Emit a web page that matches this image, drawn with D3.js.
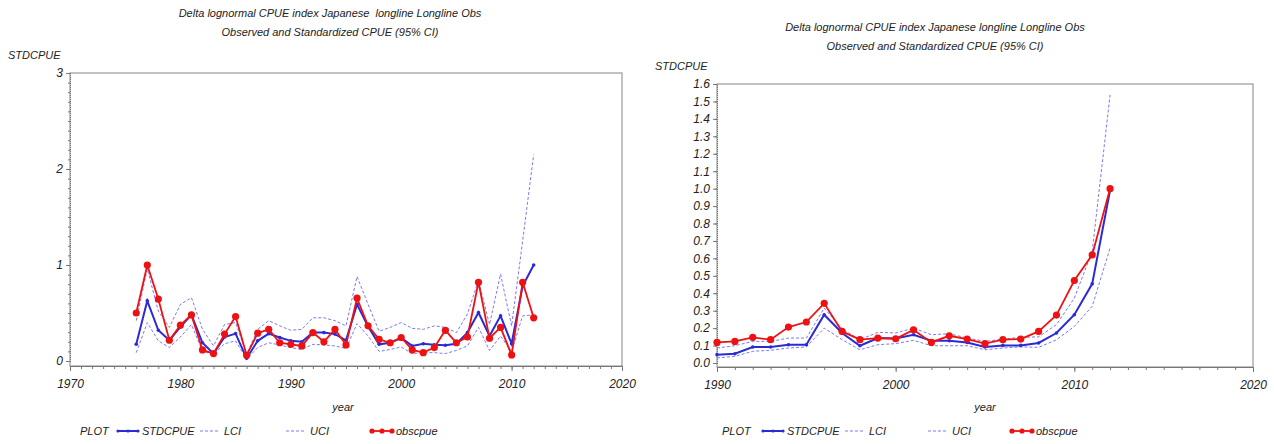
<!DOCTYPE html>
<html>
<head>
<meta charset="utf-8">
<script src="https://cdn.jsdelivr.net/npm/d3@7"></script>
<style>
body { margin: 0; background: #fff; }
text { font-family: "Liberation Sans", Arial, sans-serif; font-style: italic; fill: #222; }
</style>
</head>
<body>
<script>
// CPUE PANELS
// left: full series 1976-2012, right: 1990-2012
// blue = standardized, dashed = 95% CI, red dots = observed

var leftYears = [1976, 1977, 1978, 1979, 1980, 1981, 1982, 1983, 1984, 1985, 1986, 1987, 1988,
	1989, 1990, 1991, 1992, 1993, 1994, 1995, 1996, 1997, 1998, 1999, 2000, 2001, 2002, 2003,
	2004, 2005, 2006, 2007, 2008, 2009, 2010, 2011, 2012];
var leftObs = [0.50, 1.00, 0.645, 0.216, 0.373, 0.48, 0.115, 0.077, 0.28, 0.463, 0.06, 0.29, 0.33,
	0.19, 0.174, 0.157, 0.296, 0.20, 0.33, 0.167, 0.655, 0.366, 0.226, 0.19, 0.245, 0.115, 0.087, 0.14,
	0.32, 0.19, 0.25, 0.82, 0.237, 0.35, 0.063, 0.82, 0.45];
var leftStd = [0.174, 0.627, 0.32, 0.216, 0.355, 0.48, 0.19, 0.077, 0.25, 0.285, 0.028, 0.21, 0.285,
	0.245, 0.21, 0.20, 0.296, 0.296, 0.28, 0.216, 0.59, 0.36, 0.174, 0.19, 0.24, 0.157, 0.18, 0.17,
	0.164, 0.18, 0.296, 0.505, 0.26, 0.47, 0.18, 0.78, 1.0];
var leftUci = [0.42, 0.96, 0.52, 0.35, 0.59, 0.66, 0.33, 0.157, 0.38, 0.40, 0.07, 0.33, 0.42,
	0.366, 0.32, 0.33, 0.45, 0.45, 0.42, 0.366, 0.88, 0.59, 0.31, 0.35, 0.40, 0.34, 0.33, 0.366,
	0.35, 0.296, 0.49, 0.84, 0.38, 0.905, 0.366, 1.25, 2.15];
var leftLci = [0.087, 0.40, 0.21, 0.14, 0.25, 0.38, 0.10, 0.07, 0.18, 0.21, 0.018, 0.14, 0.19,
	0.167, 0.14, 0.12, 0.174, 0.167, 0.157, 0.13, 0.39, 0.26, 0.10, 0.12, 0.146, 0.077, 0.087, 0.087,
	0.077, 0.11, 0.157, 0.35, 0.11, 0.26, 0.10, 0.47, 0.48];

var rightYears = [1990, 1991, 1992, 1993, 1994, 1995, 1996, 1997, 1998, 1999, 2000, 2001, 2002,
	2003, 2004, 2005, 2006, 2007, 2008, 2009, 2010, 2011, 2012];
var rightObs = [0.118, 0.124, 0.147, 0.134, 0.206, 0.235, 0.342, 0.181, 0.134, 0.143, 0.139, 0.19,
	0.118, 0.156, 0.137, 0.111, 0.134, 0.137, 0.181, 0.275, 0.473, 0.62, 1.0];
var rightStd = [0.048, 0.053, 0.092, 0.092, 0.105, 0.105, 0.277, 0.172, 0.099, 0.143, 0.141, 0.162,
	0.128, 0.128, 0.118, 0.092, 0.101, 0.101, 0.115, 0.172, 0.277, 0.454, 0.99];
var rightUci = [0.086, 0.099, 0.124, 0.124, 0.143, 0.143, 0.315, 0.195, 0.134, 0.176, 0.172, 0.2,
	0.162, 0.168, 0.143, 0.124, 0.137, 0.147, 0.15, 0.22, 0.372, 0.64, 1.537];
var rightLci = [0.029, 0.038, 0.067, 0.073, 0.086, 0.092, 0.2, 0.134, 0.076, 0.105, 0.111, 0.13,
	0.099, 0.099, 0.099, 0.076, 0.086, 0.092, 0.09, 0.133, 0.21, 0.325, 0.659];

var leftTitle = ["Delta lognormal CPUE index Japanese\u00a0\u00a0longline Longline Obs",
	"Observed and Standardized CPUE (95% CI)"];
var rightTitle = ["Delta lognormal CPUE index Japanese longline Longline Obs",
	"Observed and Standardized CPUE (95% CI)"];
var xMajor = [1970, 1980, 1990, 2000, 2010, 2020];
var xMajorRight = [1990, 2000, 2010, 2020];
var leftYTicks = [0, 1, 2, 3];
var rightYTicks = [0, 0.1, 0.2, 0.3, 0.4, 0.5, 0.6, 0.7, 0.8, 0.9, 1.0, 1.1, 1.2, 1.3, 1.4, 1.5, 1.6];
var legendNames = ["STDCPUE", "LCI", "UCI", "obscpue"];

var blue = "#2b2bd6";
var ciBlue = "#7a7af0";
var red = "#ee1111";

var svg = d3.select("body").append("svg")
	.attr("width", 1274)
	.attr("height", 444);

var drawPanel = function (p) {
	var g = svg.append("g");
	var x = d3.scaleLinear().domain(p.xDomain).range([p.left, p.right]);
	var y = d3.scaleLinear().domain(p.yDomain).range([p.y0, p.top]);

	// titles
	g.selectAll(".title").data(p.title).enter().append("text")
		.attr("x", p.titleX)
		.attr("y", function (d, i) { return p.titleY + i * 19; })
		.attr("text-anchor", "middle")
		.style("font-size", "11px")
		.text(function (d) { return d; });

	g.append("text")
		.attr("x", p.yLabelX)
		.attr("y", p.top - 14)
		.style("font-size", "11px")
		.text("STDCPUE");

	// frame
	g.append("rect")
		.attr("x", p.left).attr("y", p.top)
		.attr("width", p.right - p.left).attr("height", p.bottom - p.top)
		.attr("fill", "none").attr("stroke", "#999").attr("stroke-width", 1.2);

	// x axis
	var xAxis = g.append("g").attr("transform", "translate(0," + p.bottom + ")");
	xAxis.call(d3.axisBottom(x).tickValues(d3.range(p.xDomain[0], p.xDomain[1] + 1)).tickSize(3).tickFormat(""));
	xAxis.append("g").call(d3.axisBottom(x).tickValues(p.xTicks).tickSize(5).tickFormat(d3.format("d")));
	xAxis.selectAll("path").attr("stroke", "#777");
	xAxis.selectAll("line").attr("stroke", "#777");
	xAxis.selectAll("text").style("font-size", "12px").style("font-family", "Liberation Sans, Arial, sans-serif")
		.style("font-style", "italic").attr("fill", "#222").attr("dy", "1.2em");

	// y axis
	var yAxis = g.append("g").attr("transform", "translate(" + p.left + ",0)");
	yAxis.call(d3.axisLeft(y).tickValues(p.yMinor).tickSize(2).tickFormat(""));
	yAxis.append("g").call(d3.axisLeft(y).tickValues(p.yTicks).tickSize(4).tickFormat(p.yFormat));
	yAxis.selectAll("path").attr("stroke", "#777").attr("stroke-dasharray", "1,1");
	yAxis.selectAll("line").attr("stroke", "#777");
	yAxis.selectAll("text").style("font-size", "12px").style("font-family", "Liberation Sans, Arial, sans-serif")
		.style("font-style", "italic").attr("fill", "#222");

	g.append("text")
		.attr("x", p.yearX)
		.attr("y", 411)
		.attr("text-anchor", "middle")
		.style("font-size", "11px")
		.text("year");

	var series = function (vals) {
		return p.years.map(function (yr, i) { return [yr, vals[i]]; });
	};
	var line = d3.line().x(function (d) { return x(d[0]); }).y(function (d) { return y(d[1]); });

	[p.lci, p.uci].forEach(function (vals) {
		g.append("path").datum(series(vals))
			.attr("d", line).attr("fill", "none")
			.attr("stroke", ciBlue).attr("stroke-width", 1).attr("stroke-dasharray", "3,2");
	});

	g.append("path").datum(series(p.std))
		.attr("d", line).attr("fill", "none")
		.attr("stroke", blue).attr("stroke-width", 2);
	g.selectAll(".stdpt").data(series(p.std)).enter().append("circle")
		.attr("cx", function (d) { return x(d[0]); })
		.attr("cy", function (d) { return y(d[1]); })
		.attr("r", 1.8).attr("fill", blue);

	g.append("path").datum(series(p.obs))
		.attr("d", line).attr("fill", "none")
		.attr("stroke", red).attr("stroke-width", 1.8);
	g.selectAll(".obspt").data(series(p.obs)).enter().append("circle")
		.attr("cx", function (d) { return x(d[0]); })
		.attr("cy", function (d) { return y(d[1]); })
		.attr("r", 3.6).attr("fill", red);

	// legend
	var lg = g.append("g").attr("transform", "translate(0,435)");
	lg.append("text").attr("x", p.legX[0]).text("PLOT").style("font-size", "11px");
	legendNames.forEach(function (name, i) {
		var lx = p.legX[i + 1];
		var seg = lg.append("line").attr("x1", lx).attr("x2", lx + 20).attr("y1", -4).attr("y2", -4);
		if (i == 0) {
			seg.attr("stroke", blue).attr("stroke-width", 2);
			[0, 10, 20].forEach(function (o) { lg.append("circle").attr("cx", lx + o).attr("cy", -4).attr("r", 1.6).attr("fill", blue); });
		} else if (i == 3) {
			seg.attr("stroke", red).attr("stroke-width", 1.8);
			[0, 10, 20].forEach(function (o) { lg.append("circle").attr("cx", lx + o).attr("cy", -4).attr("r", 2.6).attr("fill", red); });
		} else {
			seg.attr("stroke", ciBlue).attr("stroke-dasharray", "3,2");
		}
		lg.append("text").attr("x", lx + 24).text(name).style("font-size", "11px");
	});
};

drawPanel({
	years: leftYears, obs: leftObs, std: leftStd, uci: leftUci, lci: leftLci,
	title: leftTitle, titleX: 330, titleY: 17,
	xDomain: [1970, 2020], xTicks: xMajor,
	yDomain: [0, 3], yTicks: leftYTicks, yMinor: d3.range(0, 3.01, 0.1), yFormat: d3.format("d"),
	left: 70, right: 622, top: 73, y0: 361, bottom: 366,
	yLabelX: 8, yearX: 343, legX: [80, 118, 200, 286, 372]
});

drawPanel({
	years: rightYears, obs: rightObs, std: rightStd, uci: rightUci, lci: rightLci,
	title: rightTitle, titleX: 935, titleY: 31,
	xDomain: [1990, 2020], xTicks: xMajorRight,
	yDomain: [0, 1.6], yTicks: rightYTicks, yMinor: rightYTicks, yFormat: d3.format(".1f"),
	left: 717, right: 1253, top: 84, y0: 363, bottom: 367,
	yLabelX: 655, yearX: 985, legX: [722, 763, 845, 928, 1012]
});
</script>
</body>
</html>
